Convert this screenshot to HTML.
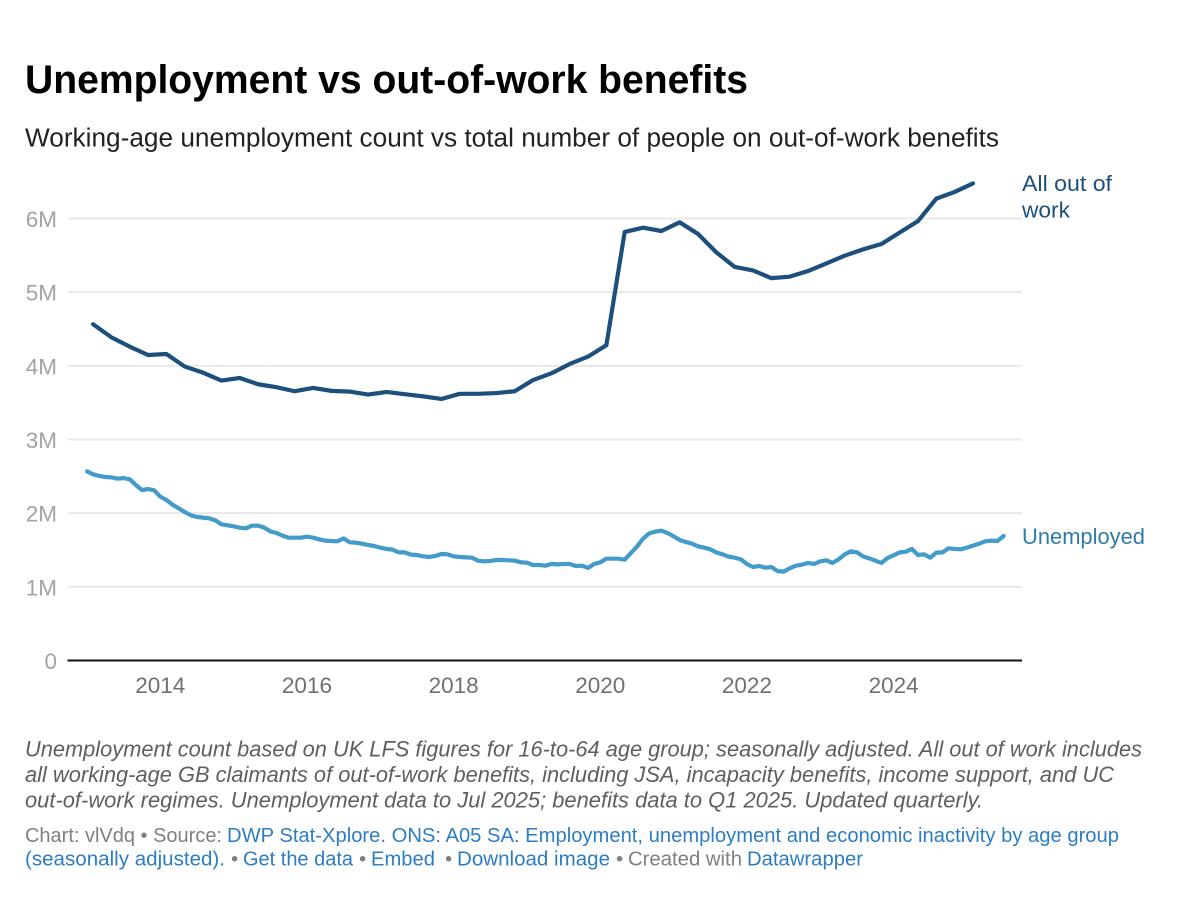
<!DOCTYPE html>
<html lang="en">
<head>
<meta charset="utf-8">
<title>Unemployment vs out-of-work benefits</title>
<style>
  html, body { margin: 0; padding: 0; background: #fff; }
  #chart { display: block; width: 1200px; height: 924px; font-family: "Liberation Sans", sans-serif; }
  a { cursor: pointer; }
  .foot { font-size: 20.5px; fill: #808080; }
  .link { fill: #2d7dc2; }
  .note { font-size: 22px; font-style: italic; fill: #5f5f5f; }
</style>
</head>
<body>
<svg id="chart" xmlns="http://www.w3.org/2000/svg" width="1200" height="924" viewBox="0 0 1200 924">
  <rect width="1200" height="924" fill="#fff"/>
  <text x="25" y="93" font-size="40" font-weight="700" fill="#000" textLength="723" lengthAdjust="spacingAndGlyphs">Unemployment vs out-of-work benefits</text>
  <text x="25" y="146.5" font-size="25.5" fill="#222" textLength="974" lengthAdjust="spacingAndGlyphs">Working-age unemployment count vs total number of people on out-of-work benefits</text>

  <g id="grid"></g>
  <g id="y-axis"></g>
  <g id="x-axis"></g>
  <g id="series"></g>

  <text x="1022" y="191" font-size="22.5" fill="#1d4f7c" textLength="90" lengthAdjust="spacingAndGlyphs">All out of</text>
  <text x="1022" y="217.5" font-size="22.5" fill="#1d4f7c" textLength="48" lengthAdjust="spacingAndGlyphs">work</text>
  <text x="1022" y="544" font-size="22.5" fill="#2f7ba8" textLength="123" lengthAdjust="spacingAndGlyphs">Unemployed</text>

  <g>
    <text class="note" x="25" y="756.5" textLength="1117" lengthAdjust="spacingAndGlyphs">Unemployment count based on UK LFS figures for 16-to-64 age group; seasonally adjusted. All out of work includes</text>
    <text class="note" x="25" y="782" textLength="1089" lengthAdjust="spacingAndGlyphs">all working-age GB claimants of out-of-work benefits, including JSA, incapacity benefits, income support, and UC</text>
    <text class="note" x="25" y="807.5" textLength="958" lengthAdjust="spacingAndGlyphs">out-of-work regimes. Unemployment data to Jul 2025; benefits data to Q1 2025. Updated quarterly.</text>
  </g>

  <g>
    <text class="foot" x="25" y="842" textLength="197" lengthAdjust="spacingAndGlyphs">Chart: vlVdq • Source:</text>
    <text class="foot link" x="227" y="842" textLength="892" lengthAdjust="spacingAndGlyphs">DWP Stat-Xplore. ONS: A05 SA: Employment, unemployment and economic inactivity by age group</text>
    <text class="foot link" x="25" y="865.5" textLength="200" lengthAdjust="spacingAndGlyphs">(seasonally adjusted).</text>
    <text class="foot" x="231" y="865.5">•</text>
    <text class="foot link" x="243" y="865.5" textLength="110" lengthAdjust="spacingAndGlyphs">Get the data</text>
    <text class="foot" x="359" y="865.5">•</text>
    <text class="foot link" x="371" y="865.5" textLength="64" lengthAdjust="spacingAndGlyphs">Embed</text>
    <text class="foot" x="445" y="865.5">•</text>
    <text class="foot link" x="457" y="865.5" textLength="153" lengthAdjust="spacingAndGlyphs">Download image</text>
    <text class="foot" x="616" y="865.5">•</text>
    <text class="foot" x="628" y="865.5" textLength="114" lengthAdjust="spacingAndGlyphs">Created with</text>
    <text class="foot link" x="747" y="865.5" textLength="116" lengthAdjust="spacingAndGlyphs">Datawrapper</text>
  </g>
</svg>

<script>
const yTickValues = [0, 1, 2, 3, 4, 5, 6];
const yTickLabels = ["0", "1M", "2M", "3M", "4M", "5M", "6M"];
const xTickYears = [2014, 2016, 2018, 2020, 2022, 2024];
const xTickLabels = ["2014", "2016", "2018", "2020", "2022", "2024"];

// All out of work, millions, quarterly from Feb 2013
const allOutOfWorkStart = 2013.083;
const allOutOfWorkStep = 0.25;
const allOutOfWork = [
  4.565, 4.387, 4.26, 4.147, 4.16, 3.99, 3.907, 3.80, 3.835, 3.75,
  3.71, 3.655, 3.70, 3.66, 3.65, 3.61, 3.645, 3.615, 3.585, 3.55,
  3.62, 3.62, 3.63, 3.655, 3.807, 3.898, 4.025, 4.125, 4.28, 5.817,
  5.875, 5.83, 5.948, 5.79, 5.54, 5.342, 5.295, 5.19, 5.21, 5.287,
  5.39, 5.495, 5.58, 5.653, 5.81, 5.965, 6.27, 6.36, 6.477
];

// Unemployed, millions, monthly from Jan 2013
const unemployedStart = 2013.0;
const unemployedStep = 1 / 12;
const unemployed = [
  2.568, 2.527, 2.505, 2.491, 2.486, 2.468, 2.477, 2.459, 2.382, 2.314,
  2.328, 2.310, 2.224, 2.179, 2.115, 2.066, 2.016, 1.971, 1.948, 1.939,
  1.930, 1.903, 1.848, 1.835, 1.821, 1.803, 1.794, 1.830, 1.830, 1.803,
  1.753, 1.731, 1.695, 1.667, 1.667, 1.667, 1.681, 1.667, 1.645, 1.627,
  1.622, 1.618, 1.658, 1.604, 1.600, 1.586, 1.568, 1.554, 1.532, 1.514,
  1.505, 1.468, 1.468, 1.437, 1.432, 1.414, 1.405, 1.419, 1.446, 1.441,
  1.414, 1.405, 1.400, 1.396, 1.355, 1.346, 1.351, 1.364, 1.364, 1.360,
  1.355, 1.333, 1.328, 1.296, 1.296, 1.287, 1.310, 1.305, 1.310, 1.310,
  1.283, 1.287, 1.256, 1.310, 1.333, 1.382, 1.382, 1.382, 1.369, 1.459,
  1.545, 1.654, 1.726, 1.749, 1.762, 1.731, 1.686, 1.636, 1.609, 1.586,
  1.550, 1.532, 1.509, 1.468, 1.441, 1.410, 1.396, 1.373, 1.310, 1.269,
  1.283, 1.260, 1.269, 1.215, 1.206, 1.251, 1.287, 1.301, 1.324, 1.310,
  1.346, 1.360, 1.324, 1.373, 1.441, 1.482, 1.468, 1.414, 1.387, 1.355,
  1.324, 1.391, 1.428, 1.468, 1.477, 1.514, 1.432, 1.441, 1.396, 1.464,
  1.468, 1.523, 1.514, 1.509, 1.532, 1.559, 1.586, 1.618, 1.627, 1.622,
  1.690
];

const svgNS = "http://www.w3.org/2000/svg";
const xScale = function (year) { return 160.3 + (year - 2014) * 73.33; };
const yScale = function (value) { return 660.5 - value * 73.67; };

function linePath(values, start, step) {
  return values.map(function (v, i) {
    return (i ? "L" : "M") + xScale(start + i * step).toFixed(2) + " " + yScale(v).toFixed(2);
  }).join("");
}

const gridGroup = document.getElementById("grid");
const yAxisGroup = document.getElementById("y-axis");
const xAxisGroup = document.getElementById("x-axis");
const seriesGroup = document.getElementById("series");

yTickValues.forEach(function (v, i) {
  const rule = document.createElementNS(svgNS, "line");
  
  
  rule.setAttribute("x1", v === 0 ? 67.5 : 68);
  rule.setAttribute("x2", 1022);
  rule.setAttribute("y1", yScale(v));
  rule.setAttribute("y2", yScale(v));
  rule.setAttribute("stroke", v === 0 ? "#111" : "#e8e8e8");
  rule.setAttribute("stroke-width", 2);
  gridGroup.appendChild(rule);

  const label = document.createElementNS(svgNS, "text");
  
  
  label.setAttribute("x", 57);
  label.setAttribute("y", yScale(v) + 8.5);
  label.setAttribute("text-anchor", "end");
  label.setAttribute("font-size", "22.5");
  label.setAttribute("fill", "#a3a3a3");
  label.textContent = yTickLabels[i];
  yAxisGroup.appendChild(label);
});

xTickYears.forEach(function (year, i) {
  const label = document.createElementNS(svgNS, "text");
  
  
  label.setAttribute("x", xScale(year));
  label.setAttribute("y", 693);
  label.setAttribute("text-anchor", "middle");
  label.setAttribute("font-size", "22.5");
  label.setAttribute("fill", "#707070");
  label.textContent = xTickLabels[i];
  xAxisGroup.appendChild(label);
});

const allLine = document.createElementNS(svgNS, "path");


allLine.setAttribute("d", linePath(allOutOfWork, allOutOfWorkStart, allOutOfWorkStep));
allLine.setAttribute("fill", "none");
allLine.setAttribute("stroke", "#1d4f7c");
allLine.setAttribute("stroke-width", 4.2);
allLine.setAttribute("stroke-linejoin", "round");
allLine.setAttribute("stroke-linecap", "round");
seriesGroup.appendChild(allLine);

const unemployedLine = document.createElementNS(svgNS, "path");


unemployedLine.setAttribute("d", linePath(unemployed, unemployedStart, unemployedStep));
unemployedLine.setAttribute("fill", "none");
unemployedLine.setAttribute("stroke", "#439bc9");
unemployedLine.setAttribute("stroke-width", 4.2);
unemployedLine.setAttribute("stroke-linejoin", "round");
unemployedLine.setAttribute("stroke-linecap", "round");
seriesGroup.appendChild(unemployedLine);
</script>
</body>
</html>
